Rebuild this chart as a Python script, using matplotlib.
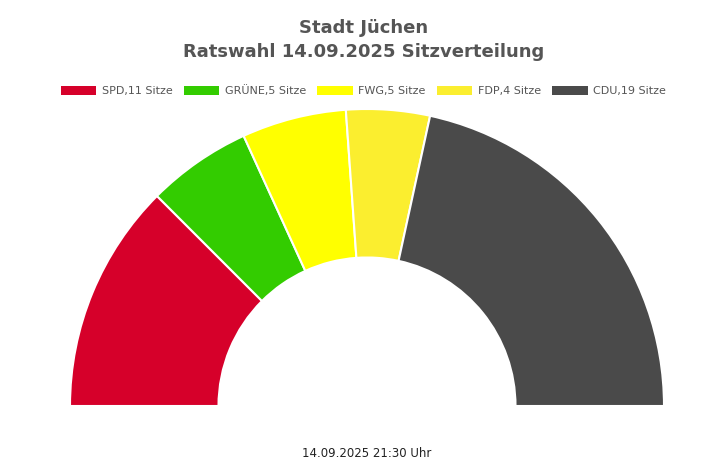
import matplotlib.pyplot as plt
from matplotlib.patches import Patch

parties = ['SPD', 'GRÜNE', 'FWG', 'FDP', 'CDU']
seats = [11, 5, 5, 4, 19]
colors = ['#d6002a', '#33cc00', '#ffff00', '#fbee2f', '#4a4a4a']

fig = plt.figure(figsize=(7.27, 4.65), dpi=100)
W, H = 727, 465
cx, cy, r = 367, 406, 297

ax = fig.add_axes([(cx - r) / W, (H - cy - r) / H, 2 * r / W, 2 * r / H])
total = sum(seats)
wedges, _ = ax.pie(seats + [total], colors=colors + ['none'], startangle=180,
                   counterclock=False, radius=1,
                   wedgeprops=dict(width=0.5, edgecolor='white', linewidth=1.5))
wedges[-1].set_edgecolor('none')
ax.set_xlim(-1, 1)
ax.set_ylim(-1, 1)
ax.set_aspect('auto')
ax.axis('off')

fig.text(0.5, 1 - 28 / H, 'Stadt Jüchen', ha='center', va='center',
         fontsize=13, fontweight='bold', color='#555555')
fig.text(0.5, 1 - 52 / H, 'Ratswahl 14.09.2025 Sitzverteilung', ha='center', va='center',
         fontsize=13, fontweight='bold', color='#555555')

handles = [Patch(facecolor=c, edgecolor='none') for c in colors]
labels = [f'{p},{s} Sitze' for p, s in zip(parties, seats)]
fig.legend(handles, labels, loc='center', bbox_to_anchor=(0.5, 1 - 91 / H), ncol=5,
           frameon=False, fontsize=8, labelcolor='#555555', handlelength=3.2,
           handleheight=0.9, handletextpad=0.5, columnspacing=1.0)

fig.text(cx / W, 1 - 453 / H, '14.09.2025 21:30 Uhr', ha='center', va='center',
         fontsize=8.5, color='#222222')

fig.savefig('out.png', dpi=100)
